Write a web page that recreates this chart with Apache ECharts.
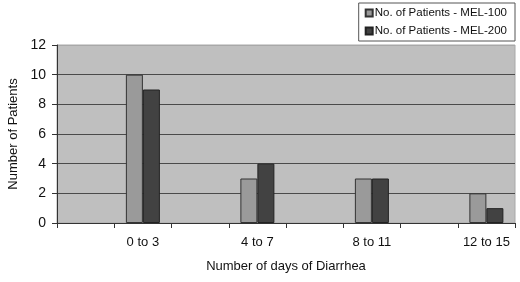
<!DOCTYPE html>
<html>
<head>
<meta charset="utf-8">
<script src="https://cdn.jsdelivr.net/npm/echarts@6/dist/echarts.min.js"></script>
<style>
  html, body { margin: 0; padding: 0; background: #fff; }
  #chart { width: 520px; height: 282px; }
</style>
</head>
<body>
<div id="chart"></div>
<script>
// 8 slots on the axis, labels only on every second one (as in the original sheet)
const categories = ['', '0 to 3', '', '4 to 7', '', '8 to 11', '', '12 to 15'];
const mel100 = [null, 10, null, 3, null, 3, null, 2]; // No. of Patients - MEL-100
const mel200 = [null, 9, null, 4, null, 3, null, 1];  // No. of Patients - MEL-200
const yTicks = { min: 0, max: 12, interval: 2 };

const font = 'Liberation Sans, Arial, sans-serif';

const chart = echarts.init(document.getElementById('chart'));

const option = {
  animation: false,
  textStyle: { fontFamily: font },
  legend: {
    orient: 'vertical',
    right: 5,
    top: 3,
    padding: [4, 8, 4, 6],
    itemGap: 6,
    itemWidth: 7,
    itemHeight: 7,
    borderColor: '#555',
    borderWidth: 1,
    icon: 'rect',
    textStyle: { fontSize: 11.5, color: '#111', fontFamily: font, padding: [0, 0, 0, -3] },
    data: ['No. of Patients - MEL-100', 'No. of Patients - MEL-200']
  },
  grid: {
    left: 57,
    right: 5,
    top: 45,
    bottom: 59,
    outerBoundsMode: 'none',
    show: true,
    backgroundColor: '#bfbfbf',
    borderColor: '#a8a8a8',
    borderWidth: 1
  },
  xAxis: {
    type: 'category',
    data: categories,
    name: 'Number of days of Diarrhea',
    nameLocation: 'middle',
    nameGap: 37,
    nameTextStyle: { fontSize: 13, color: '#111', fontFamily: font },
    axisLine: { lineStyle: { color: '#333', width: 1 } },
    axisTick: { show: true, alignWithLabel: false, length: 5, lineStyle: { color: '#333' } },
    axisLabel: { interval: 0, fontSize: 13, color: '#111', margin: 13, fontFamily: font }
  },
  yAxis: {
    type: 'value',
    min: yTicks.min,
    max: yTicks.max,
    interval: yTicks.interval,
    name: 'Number of Patients',
    nameLocation: 'middle',
    nameGap: 37,
    nameTextStyle: { fontSize: 13, color: '#111', fontFamily: font },
    axisLine: { show: true, lineStyle: { color: '#333', width: 1 } },
    axisTick: { show: true, length: 5, lineStyle: { color: '#333' } },
    axisLabel: { fontSize: 14, color: '#111', margin: 11, fontFamily: font },
    splitLine: {
      show: true,
      lineStyle: { color: ['#333', '#4a4a4a', '#4a4a4a', '#4a4a4a', '#4a4a4a', '#4a4a4a', '#a8a8a8'], width: 1 }
    }
  },
  series: [
    {
      name: 'No. of Patients - MEL-100',
      type: 'bar',
      data: mel100,
      barWidth: 17,
      barGap: '0%',
      itemStyle: { color: '#9a9a9a', borderColor: '#333', borderWidth: 1 }
    },
    {
      name: 'No. of Patients - MEL-200',
      type: 'bar',
      data: mel200,
      barWidth: 17,
      itemStyle: { color: '#424242', borderColor: '#222', borderWidth: 1 }
    }
  ]
};

chart.setOption(option);
</script>
</body>
</html>
